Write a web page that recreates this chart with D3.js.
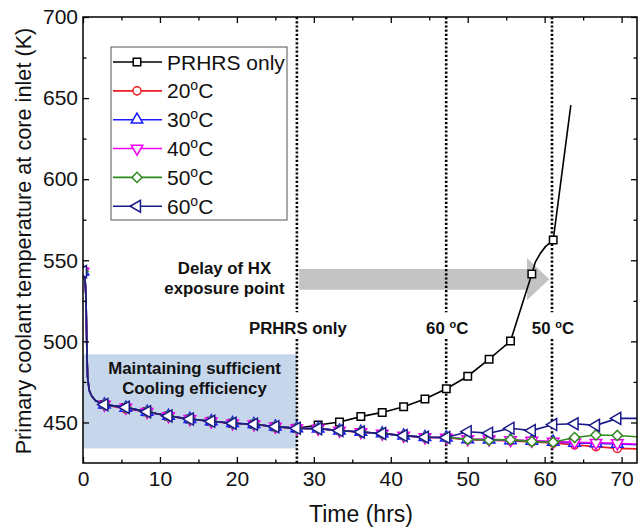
<!DOCTYPE html>
<html>
<head>
<meta charset="utf-8">
<script src="https://cdn.jsdelivr.net/npm/d3@7"></script>
<style>
  body { margin: 0; background: #fff; }
  svg { font-family: "Liberation Sans", Arial, sans-serif; }
</style>
</head>
<body>
<div id="chart"></div>
<script>
// Marker times (every 10000 s, in hours)
const markerHours = [0, 2.78, 5.56, 8.33, 11.11, 13.89, 16.67, 19.44, 22.22, 25.0, 27.78,
  30.56, 33.33, 36.11, 38.89, 41.67, 44.44, 47.22, 50.0, 52.78, 55.56, 58.33, 61.11,
  63.89, 66.67, 69.44];

// Fast initial drop (line only, shared by all cases)
const dropHours = [0.25, 0.4, 0.5, 0.6, 0.8, 1.1, 1.6];
const dropTemps = [541, 525, 495, 478, 470, 466.5, 463.5];

// PRHRS only
const prhrsTemps = [543, 461, 459.3, 456.6, 454, 452.1, 450.7, 449.5, 448.9, 447.4, 446.4,
  448.4, 450.3, 453.6, 456.2, 459.7, 464.5, 470.8, 478.5, 489, 500.2, 541.5, 562.5];
const prhrsLineHours = [58.8, 59.45, 60.1, 63.4];
const prhrsLineTemps = [549, 554.3, 558.4, 645.7];

// PRHRS + HX cases
const temps20 = [543, 461, 458.3, 456.4, 453.9, 452, 450.6, 449.4, 448.8, 447.3, 446.3,
  446.1, 444.9, 444, 443.1, 441.8, 440.8, 440.6, 439.4, 439.1, 438.6, 438, 437.3,
  436.2, 435.1, 434];
const temps30 = [543, 461, 459, 456.5, 454, 452.1, 450.7, 449.5, 448.9, 447.4, 446.4,
  446.2, 445, 444.1, 443.2, 441.9, 440.9, 440.7, 439.6, 439.4, 439, 438.6, 438,
  437.4, 437.1, 436.8];
const temps40 = [543, 461, 459.2, 456.6, 454, 452.1, 450.7, 449.5, 448.9, 447.4, 446.4,
  446.2, 445, 444.1, 443.2, 441.9, 440.9, 440.7, 439.8, 439.6, 439.2, 438.8, 438.2,
  437.8, 437.5, 437.2];
const temps50 = [543, 461, 459.2, 456.6, 454, 452.1, 450.7, 449.5, 448.9, 447.4, 446.4,
  446.2, 445, 444.1, 443.2, 441.9, 440.9, 440.7, 439.6, 439.2, 439.4, 438.2, 437.8,
  440.7, 442.3, 442];
const temps60 = [543, 461, 459.3, 456.6, 454, 452.1, 450.7, 449.5, 448.9, 447.4, 446.4,
  446.2, 445, 444.1, 443.2, 441.9, 440.9, 440.7, 444.3, 443.4, 446.4, 445, 448.7,
  449.2, 448.2, 452.5];
const endHour = 72;
const endTemps = [433.7, 436.3, 436.6, 441.2, 452.5];

const caseLabels = ["20", "30", "40", "50", "60"];
const xTicks = [0, 10, 20, 30, 40, 50, 60, 70];
const yTicks = [450, 500, 550, 600, 650, 700];

const margin = {top: 17, right: 6, bottom: 66, left: 83},
      width = 643 - margin.left - margin.right,
      height = 529 - margin.top - margin.bottom;

const svg = d3.select("#chart").append("svg")
    .attr("width", width + margin.left + margin.right)
    .attr("height", height + margin.top + margin.bottom)
  .append("g")
    .attr("transform", `translate(${margin.left},${margin.top})`);

const x = d3.scaleLinear().domain([0, 72]).range([0, width]);
const y = d3.scaleLinear().domain([425, 700]).range([height, 0]);

svg.append("clipPath").attr("id", "clip")
  .append("rect").attr("width", width).attr("height", height);

// shaded region
svg.append("rect")
    .attr("x", x(0)).attr("y", y(492))
    .attr("width", x(27.8) - x(0)).attr("height", y(434) - y(492))
    .attr("fill", "#c6d6eb");

// arrow
const arrowPts = [[28.1, 544.6], [57.7, 544.6], [57.7, 551.4], [60.6, 538.3],
                  [57.7, 525.3], [57.7, 531.8], [28.1, 531.8]];
svg.append("polygon")
    .attr("points", arrowPts.map(p => [x(p[0]), y(p[1])].join(",")).join(" "))
    .attr("fill", "#c3c3c3");

// text annotations
const bold = svg.append("g").attr("font-weight", "bold").attr("font-size", 16.8)
    .attr("text-anchor", "middle").attr("fill", "#111");
bold.append("text").attr("x", 111.5).attr("y", 357).text("Maintaining sufficient");
bold.append("text").attr("x", 111.5).attr("y", 377).text("Cooling efficiency");
bold.append("text").attr("x", 141.5).attr("y", 257).text("Delay of HX");
bold.append("text").attr("x", 141.5).attr("y", 277).text("exposure point");

// vertical dotted lines with labels
const vlines = [{h: 27.8, label: "PRHRS only"}, {h: 47.2, label: "60"}, {h: 60.95, label: "50"}];
vlines.forEach(v => {
  [[700, 518], [501.5, 425]].forEach(seg => {
    svg.append("line")
        .attr("x1", x(v.h)).attr("x2", x(v.h))
        .attr("y1", y(seg[0])).attr("y2", y(seg[1]))
        .attr("stroke", "#000").attr("stroke-width", 2.6)
        .attr("stroke-dasharray", "2.2,2");
  });
  const t = bold.append("text").attr("x", x(v.h) + 1).attr("y", y(504.3));
  if (v.label === "PRHRS only") {
    t.text(v.label);
  } else {
    t.append("tspan").text(v.label + " ");
    t.append("tspan").attr("font-size", 11).attr("dy", -6).text("o");
    t.append("tspan").attr("dy", 6).text("C");
  }
});

// series
const symbols = {
  square:   {type: d3.symbolSquare, size: 56, rot: 0},
  circle:   {type: d3.symbolCircle, size: 52, rot: 0},
  triUp:    {type: d3.symbolTriangle, size: 58, rot: 0},
  triDown:  {type: d3.symbolTriangle, size: 58, rot: 180},
  diamond:  {type: d3.symbolSquare, size: 52, rot: 45},
  triLeft:  {type: d3.symbolTriangle, size: 62, rot: -90}
};

const series = [
  {name: "PRHRS only", temps: prhrsTemps, extraH: prhrsLineHours, extraT: prhrsLineTemps,
   color: "#000000", sym: "square"},
  {name: caseLabels[0], temps: temps20, extraH: [endHour], extraT: [endTemps[0]], color: "#ee1c24", sym: "circle"},
  {name: caseLabels[1], temps: temps30, extraH: [endHour], extraT: [endTemps[1]], color: "#1c1cff", sym: "triUp"},
  {name: caseLabels[2], temps: temps40, extraH: [endHour], extraT: [endTemps[2]], color: "#ee00ee", sym: "triDown"},
  {name: caseLabels[3], temps: temps50, extraH: [endHour], extraT: [endTemps[3]], color: "#2f8a1e", sym: "diamond"},
  {name: caseLabels[4], temps: temps60, extraH: [endHour], extraT: [endTemps[4]], color: "#1a1a8a", sym: "triLeft"}
];

const line = d3.line().x(d => x(d[0])).y(d => y(d[1]));
const plot = svg.append("g").attr("clip-path", "url(#clip)");

series.forEach(s => {
  const markers = s.temps.map((t, i) => [markerHours[i], t]);
  const pts = markers.concat(dropHours.map((h, i) => [h, dropTemps[i]]))
      .concat(s.extraH.map((h, i) => [h, s.extraT[i]]))
      .sort((a, b) => a[0] - b[0]);
  const g = plot.append("g");
  g.append("path").datum(pts)
      .attr("d", line).attr("fill", "none")
      .attr("stroke", s.color).attr("stroke-width", 1.6);
  const sy = symbols[s.sym];
  g.selectAll("path.m").data(markers).enter().append("path")
      .attr("class", "m")
      .attr("d", d3.symbol().type(sy.type).size(sy.size))
      .attr("transform", d => `translate(${x(d[0])},${y(d[1])}) rotate(${sy.rot})`)
      .attr("fill", "#fff").attr("stroke", s.color).attr("stroke-width", 1.5);
});

// axes (ticks inward on all four sides)
function styleAxis(g) {
  g.select(".domain").remove();
  g.selectAll("line").attr("stroke", "#000").attr("stroke-width", 1.3);
  g.selectAll("text").attr("font-size", 21).attr("fill", "#111")
      .attr("font-family", '"Liberation Sans", Arial, sans-serif');
}
const xMinor = d3.range(5, 72, 10);
const yMinor = d3.range(475, 700, 50);

svg.append("g").attr("transform", `translate(0,${height})`)
    .call(d3.axisBottom(x).tickValues(xTicks).tickSize(-6).tickPadding(8).tickFormat(d3.format("d")))
    .call(styleAxis);
svg.append("g").attr("transform", `translate(0,${height})`)
    .call(d3.axisBottom(x).tickValues(xMinor).tickSize(-3.5).tickFormat(""))
    .call(styleAxis);
svg.append("g")
    .call(d3.axisTop(x).tickValues(xTicks).tickSize(-6).tickFormat(""))
    .call(styleAxis);
svg.append("g")
    .call(d3.axisTop(x).tickValues(xMinor).tickSize(-3.5).tickFormat(""))
    .call(styleAxis);
svg.append("g")
    .call(d3.axisLeft(y).tickValues(yTicks).tickSize(-6).tickPadding(5).tickFormat(d3.format("d")))
    .call(styleAxis);
svg.append("g")
    .call(d3.axisLeft(y).tickValues(yMinor).tickSize(-3.5).tickFormat(""))
    .call(styleAxis);
svg.append("g").attr("transform", `translate(${width},0)`)
    .call(d3.axisRight(y).tickValues(yTicks).tickSize(-6).tickFormat(""))
    .call(styleAxis);
svg.append("g").attr("transform", `translate(${width},0)`)
    .call(d3.axisRight(y).tickValues(yMinor).tickSize(-3.5).tickFormat(""))
    .call(styleAxis);

svg.append("rect").attr("width", width).attr("height", height)
    .attr("fill", "none").attr("stroke", "#000").attr("stroke-width", 1.5);

// axis titles
svg.append("text")
    .attr("x", width / 2 + 1).attr("y", height + 59)
    .attr("text-anchor", "middle").attr("font-size", 23).attr("fill", "#111")
    .text("Time (hrs)");
svg.append("text")
    .attr("transform", `translate(${-52},${height / 2 + 1}) rotate(-90)`)
    .attr("text-anchor", "middle").attr("font-size", 21.7).attr("fill", "#111")
    .text("Primary coolant temperature at core inlet (K)");

// legend
const legend = svg.append("g").attr("transform", "translate(28,30)");
legend.append("rect").attr("width", 176).attr("height", 173)
    .attr("fill", "#fff").attr("stroke", "#555").attr("stroke-width", 1);
series.forEach((s, i) => {
  const ly = 15 + i * 28.85;
  legend.append("line").attr("x1", 2).attr("x2", 51).attr("y1", ly).attr("y2", ly)
      .attr("stroke", s.color).attr("stroke-width", 1.6);
  const sy = symbols[s.sym];
  legend.append("path")
      .attr("d", d3.symbol().type(sy.type).size(sy.size))
      .attr("transform", `translate(26,${ly}) rotate(${sy.rot})`)
      .attr("fill", "#fff").attr("stroke", s.color).attr("stroke-width", 1.5);
  const t = legend.append("text").attr("x", 56).attr("y", ly + 7.5)
      .attr("font-size", 21).attr("fill", "#111");
  if (i === 0) {
    t.text(s.name);
  } else {
    t.append("tspan").text(s.name);
    t.append("tspan").attr("font-size", 14).attr("dy", -8).text("o");
    t.append("tspan").attr("dy", 8).text("C");
  }
});
</script>
</body>
</html>
